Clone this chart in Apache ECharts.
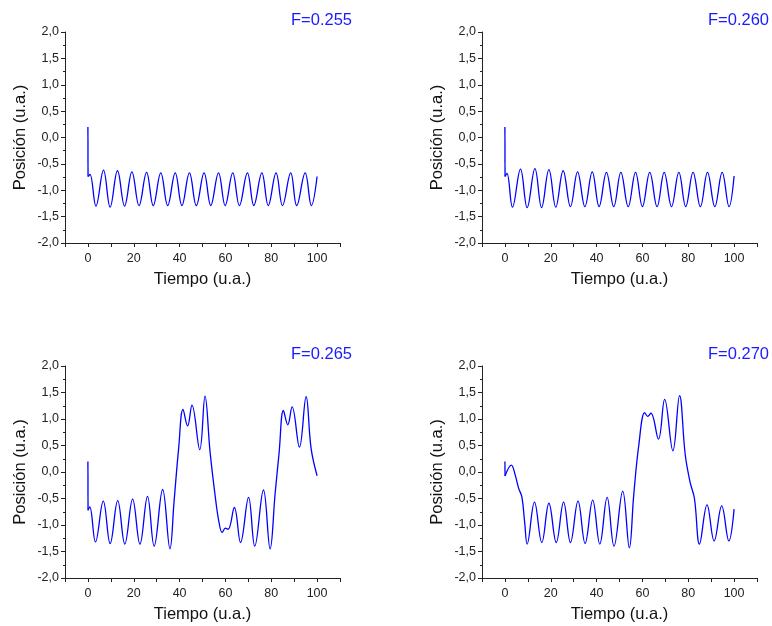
<!DOCTYPE html>
<html><head><meta charset="utf-8">
<script src="https://cdn.jsdelivr.net/npm/echarts@6/dist/echarts.min.js"></script>
<style>html,body{margin:0;padding:0;background:#fff}#c{width:772px;height:626px}</style>
</head><body><div id="c"></div>
<script>
// ---- data ----
const panelTitles = ['F=0.255', 'F=0.260', 'F=0.265', 'F=0.270'];
const xTitle = 'Tiempo (u.a.)';
const yTitle = 'Posición (u.a.)';
const xTickLabels = [0, 20, 40, 60, 80, 100];

const spikeT255 = [0, 0.05];
const spikeY255 = [0.2, -0.74];
const t255 = [0.05, 0.9, 3.5, 6.8, 9.7, 12.9, 16.0, 19.2, 22.3, 25.6, 28.5, 31.8, 34.8, 38.1, 41.0, 44.3, 47.3, 50.7, 53.6, 57.0, 59.9, 63.2, 66.1, 69.6, 72.4, 75.9, 78.7, 82.1, 84.9, 88.5, 91.1, 94.8, 97.5, 100];
const y255 = [-0.74, -0.70, -1.30, -0.62, -1.32, -0.63, -1.30, -0.65, -1.29, -0.66, -1.29, -0.67, -1.29, -0.67, -1.29, -0.67, -1.29, -0.67, -1.29, -0.67, -1.29, -0.67, -1.29, -0.67, -1.29, -0.67, -1.29, -0.67, -1.29, -0.67, -1.29, -0.67, -1.29, -0.74];

const spikeT260 = [0, 0.05];
const spikeY260 = [0.2, -0.74];
const t260 = [0.05, 0.9, 3.3, 6.8, 9.7, 13.1, 16.0, 19.2, 22.2, 25.4, 28.6, 31.7, 34.9, 38.1, 41.1, 44.3, 47.5, 50.6, 53.8, 57.0, 60.0, 63.2, 66.4, 69.5, 72.7, 75.9, 78.9, 82.1, 85.3, 88.4, 91.6, 94.8, 97.8, 100];
const y260 = [-0.74, -0.68, -1.32, -0.60, -1.33, -0.59, -1.33, -0.61, -1.32, -0.63, -1.31, -0.65, -1.31, -0.65, -1.31, -0.66, -1.31, -0.66, -1.31, -0.66, -1.31, -0.66, -1.31, -0.66, -1.31, -0.66, -1.31, -0.66, -1.31, -0.66, -1.31, -0.66, -1.31, -0.73];

const spikeT265 = [0, 0.05];
const spikeY265 = [0.2, -0.72];
const t265 = [0.05, 0.8, 3.3, 6.7, 9.7, 13.0, 16.1, 19.5, 22.7, 26.0, 28.9, 32.6, 35.8, 37.6, 39.6, 41.5, 43.5, 45.4, 48.8, 51.1, 53.3, 55.5, 57.2, 58.6, 60.0, 61.2, 63.9, 66.6, 70.1, 72.8, 76.6, 79.5, 81.7, 83.4, 85.3, 87.2, 89.1, 92.3, 95.2, 97.4, 100];
const y265 = [-0.72, -0.66, -1.32, -0.55, -1.35, -0.54, -1.36, -0.51, -1.36, -0.46, -1.40, -0.33, -1.45, -0.55, 0.45, 1.18, 0.87, 1.26, 0.42, 1.43, 0.38, -0.44, -0.95, -1.14, -1.06, -1.08, -0.67, -1.33, -0.48, -1.40, -0.34, -1.45, -0.40, 0.35, 1.16, 0.89, 1.23, 0.47, 1.42, 0.44, -0.07];

const spikeT270 = [0, 0.05];
const spikeY270 = [0.2, -0.075];
const t270 = [0.05, 2.8, 4.5, 6.0, 7.4, 8.6, 9.7, 12.9, 16.1, 19.2, 22.4, 25.6, 28.6, 31.9, 35.0, 38.3, 41.4, 44.6, 47.6, 51.4, 54.3, 56.2, 58.4, 61.0, 62.3, 63.7, 67.0, 69.7, 73.3, 76.2, 78.7, 80.8, 82.7, 84.9, 88.2, 91.3, 94.6, 97.7, 100];
const y270 = [-0.075, 0.13, -0.06, -0.31, -0.47, -0.94, -1.36, -0.57, -1.33, -0.59, -1.33, -0.57, -1.33, -0.55, -1.35, -0.53, -1.36, -0.48, -1.40, -0.36, -1.43, -0.44, 0.50, 1.12, 1.05, 1.11, 0.62, 1.37, 0.40, 1.44, 0.32, -0.19, -0.50, -1.36, -0.62, -1.30, -0.64, -1.30, -0.70];

// ---- chart ----
const FONT = '"Liberation Sans", Arial, sans-serif';
const BLUE = '#0000ff';
const panels = [
  {t: t255, y: y255, st: spikeT255, sy: spikeY255},
  {t: t260, y: y260, st: spikeT260, sy: spikeY260},
  {t: t265, y: y265, st: spikeT265, sy: spikeY265},
  {t: t270, y: y270, st: spikeT270, sy: spikeY270}
];
const grids = [
  {left: 65, top: 32, width: 275, height: 211},
  {left: 482, top: 32, width: 275, height: 211},
  {left: 65, top: 366, width: 275, height: 212},
  {left: 482, top: 366, width: 275, height: 212}
];
const titlePos = [
  {right: 420, top: 12}, {right: 3, top: 12},
  {right: 420, top: 346}, {right: 3, top: 346}
];
const zip = (a, b) => a.map((v, i) => [v, b[i]]);

const option = {
  animation: false,
  backgroundColor: '#fff',
  title: panelTitles.map((txt, i) => Object.assign({
    text: txt, padding: 0,
    textStyle: {color: '#1a1aff', fontSize: 16.5, fontWeight: 'normal', fontFamily: FONT}
  }, titlePos[i])),
  grid: grids,
  xAxis: grids.map((g, i) => ({
    type: 'value', gridIndex: i, min: -10, max: 110, interval: 10,
    name: xTitle, nameLocation: 'middle', nameGap: 28,
    nameTextStyle: {fontSize: 16.5, color: '#111', fontFamily: FONT},
    axisLine: {show: true, onZero: false, lineStyle: {color: '#222', width: 1}},
    axisTick: {show: true, length: 4, lineStyle: {color: '#222'}},
    splitLine: {show: false},
    axisLabel: {
      margin: 9, fontSize: 12.5, color: '#222', fontFamily: FONT,
      formatter: v => xTickLabels.includes(v) ? String(v) : ''
    }
  })),
  yAxis: grids.map((g, i) => ({
    type: 'value', gridIndex: i, min: -2, max: 2, interval: 0.5,
    name: yTitle, nameLocation: 'middle', nameGap: 36,
    nameTextStyle: {fontSize: 16.5, color: '#111', fontFamily: FONT},
    axisLine: {show: true, onZero: false, lineStyle: {color: '#222', width: 1}},
    axisTick: {show: true, length: 4, lineStyle: {color: '#222'}},
    minorTick: {show: true, splitNumber: 2, length: 2, lineStyle: {color: '#222'}},
    splitLine: {show: false},
    minorSplitLine: {show: false},
    axisLabel: {
      margin: 6, fontSize: 12.5, color: '#222', fontFamily: FONT,
      formatter: v => v.toFixed(1).replace('.', ',')
    }
  })),
  series: panels.flatMap((p, i) => [
    {
      type: 'line', xAxisIndex: i, yAxisIndex: i, data: zip(p.st, p.sy),
      showSymbol: false, symbol: 'none', lineStyle: {color: BLUE, width: 1.3}
    },
    {
      type: 'line', xAxisIndex: i, yAxisIndex: i, data: zip(p.t, p.y),
      smooth: 0.4, showSymbol: false, symbol: 'none',
      lineStyle: {color: BLUE, width: 1.3}
    }
  ])
};
echarts.init(document.getElementById('c'), null, {renderer: 'canvas'}).setOption(option);
</script>
</body></html>
